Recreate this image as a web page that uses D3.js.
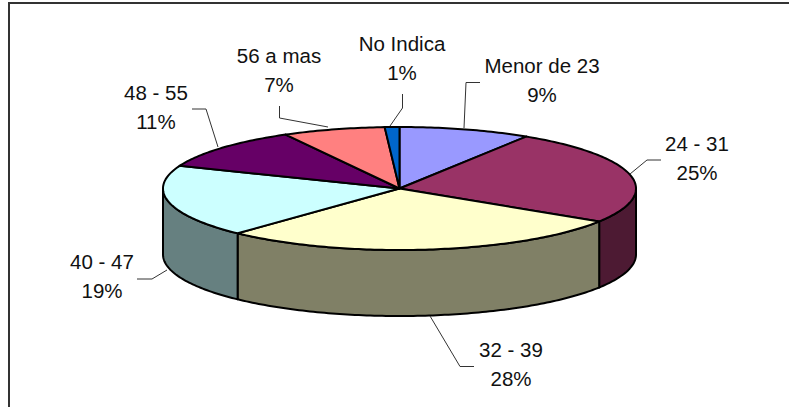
<!DOCTYPE html>
<html>
<head>
<meta charset="utf-8">
<script src="https://cdnjs.cloudflare.com/ajax/libs/d3/7.8.5/d3.min.js"></script>
<style>
html, body { margin: 0; padding: 0; background: #fff; overflow: hidden; }
svg { display: block; }
text { font-family: "Liberation Sans", Arial, sans-serif; font-size: 20.5px; fill: #111; }
</style>
</head>
<body>
<div id="chart"></div>
<script>
const categories = ["Menor de 23", "24 - 31", "32 - 39", "40 - 47", "48 - 55", "56 a mas", "No Indica"];
const percents = [9, 25, 28, 19, 11, 7, 1];
const topColors = ["#9999ff", "#993366", "#ffffcc", "#ccffff", "#660066", "#ff8080", "#0066cc"];
const sideColors = ["#4d4d80", "#4d1a33", "#808066", "#668080", "#330033", "#804040", "#003366"];

const width = 789, height = 407;
const cx = 399.5, cy = 188.5, rx = 236.5, ry = 61.5, depth = 66;

const svg = d3.select("#chart").append("svg")
    .attr("width", width)
    .attr("height", height);

// Frame, only left and top edges fall inside the crop
svg.append("path")
    .attr("d", d3.line()([[9, height], [9, 3], [width, 3]]))
    .attr("fill", "none")
    .attr("stroke", "#333")
    .attr("stroke-width", 2);

// Tilted pie: angle goes clockwise from 12 o'clock
const px = a => cx + rx * Math.sin(a);
const py = a => cy - ry * Math.cos(a);

const slices = d3.pie().sort(null).value(d => d)(percents);
const line = d3.line();

function rimPoints(a0, a1, dy) {
    const n = Math.max(2, Math.ceil((a1 - a0) * 60));
    return d3.range(n + 1).map(i => {
        const a = a0 + (a1 - a0) * i / n;
        return [px(a), py(a) + dy];
    });
}

// Side walls, only the front half of the rim shows
const walls = slices.map((s, i) => ({
    a0: Math.max(s.startAngle, Math.PI / 2),
    a1: Math.min(s.endAngle, Math.PI * 1.5),
    i: i
})).filter(d => d.a1 > d.a0);

svg.append("g").selectAll("path")
    .data(walls)
    .enter()
    .append("path")
    .attr("d", d => line(rimPoints(d.a0, d.a1, 0).concat(rimPoints(d.a0, d.a1, depth).reverse())) + "Z")
    .attr("fill", d => sideColors[d.i])
    .attr("stroke", "#000")
    .attr("stroke-width", 2)
    .attr("stroke-linejoin", "round");

// Top face
svg.append("g").selectAll("path")
    .data(slices)
    .enter()
    .append("path")
    .attr("d", s => line([[cx, cy]].concat(rimPoints(s.startAngle, s.endAngle, 0))) + "Z")
    .attr("fill", (s, i) => topColors[i])
    .attr("stroke", "#000")
    .attr("stroke-width", 2)
    .attr("stroke-linejoin", "round");

// Leader lines, from label to rim
const leaders = [
    [[480, 82.5], [466, 82.5], [464, 128]],
    [[661, 160], [647, 160], [630, 174]],
    [[474, 366.5], [460, 366.5], [430, 316]],
    [[137, 279], [152, 279], [167, 270]],
    [[192, 109], [206, 109], [218, 147]],
    [[279.5, 106], [279.5, 118], [328, 127]],
    [[402.5, 94], [402.5, 108], [390, 126]]
];

svg.append("g").selectAll("path")
    .data(leaders)
    .enter()
    .append("path")
    .attr("d", d => line(d))
    .attr("fill", "none")
    .attr("stroke", "#333")
    .attr("stroke-width", 1);

// Labels
const labelX = [542, 697, 511, 102, 156, 279, 402];
const labelY = [73, 151, 357, 269, 100, 63, 51];

const labels = svg.append("g").selectAll("text")
    .data(categories)
    .enter()
    .append("text")
    .attr("x", (d, i) => labelX[i])
    .attr("y", (d, i) => labelY[i])
    .attr("text-anchor", "middle");

labels.append("tspan").text(d => d);
labels.append("tspan")
    .attr("x", (d, i) => labelX[i])
    .attr("dy", 29)
    .text((d, i) => percents[i] + "%");
</script>
</body>
</html>
